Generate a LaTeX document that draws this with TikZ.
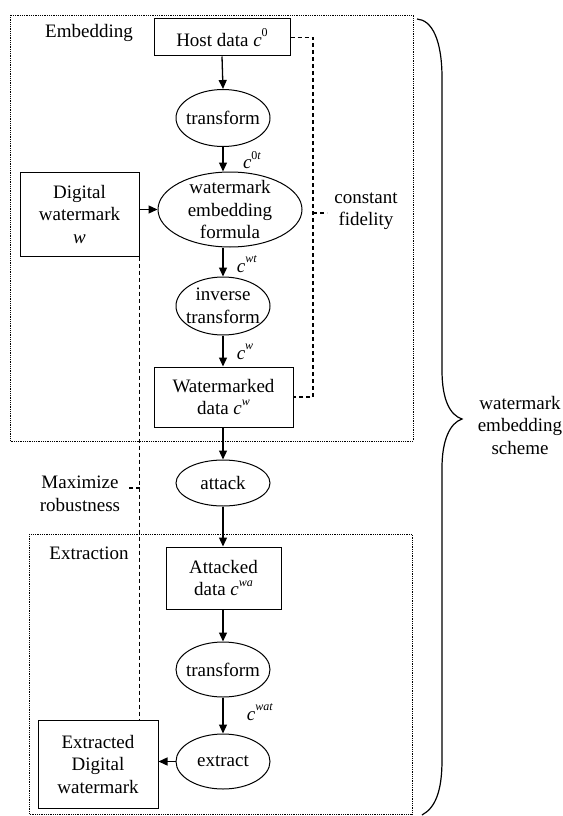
\documentclass[tikz,border=0pt]{standalone}
\usepackage{fontspec}
\setmainfont{Liberation Serif}
\usetikzlibrary{arrows.meta,shapes.geometric}
\newcommand\supit[2]{\textit{#1}\raisebox{0.5em}{\fontsize{12}{12}\selectfont\textit{#2}}}
\newcommand\suprm[2]{\textit{#1}\raisebox{0.5em}{\fontsize{12}{12}\selectfont #2}}
\tikzset{
  txt/.style={font=\fontsize{19}{22.5}\selectfont, align=center, inner sep=0pt},
  boxn/.style={draw, line width=1pt, inner sep=0pt},
  elln/.style={draw, ellipse, line width=1pt, inner sep=0pt},
  flow/.style={line width=1.3pt, -{Triangle[length=9pt,width=8pt]}},
  dashl/.style={line width=1.1pt, dash pattern=on 4pt off 3pt},
  region/.style={line width=0.8pt, densely dotted},
  bracel/.style={line width=1.2pt}
}
\begin{document}
\begin{tikzpicture}[x=1pt,y=-1pt]
\useasboundingbox (0,0) rectangle (562,816);
% regions
\draw[region] (10,15) rectangle (413,441);
\draw[region] (29,534) rectangle (412,814);
\node[txt] (lemb) at (89,33) {Embedding};
\node[txt] (lext) at (89,553) {Extraction};
% embedding part
\node[boxn, minimum width=136, minimum height=37] (host) at (222,37.5) {};
\node[txt] (hostt) at (host) {Host data \suprm{c}{0}};
\node[elln, minimum width=94, minimum height=57] (tr1) at (223,118) {};
\node[txt] (tr1t) at (tr1) {transform};
\node[elln, minimum width=144, minimum height=75] (emb) at (230,209.5) {};
\node[txt] (embt) at (emb) {watermark\\embedding\\formula};
\node[boxn, minimum width=119, minimum height=84] (dw) at (79.5,214) {};
\node[txt] (dwt) at (dw) {Digital\\watermark\\\textit{w}};
\node[elln, minimum width=94, minimum height=58] (inv) at (223,306) {};
\node[txt] (invt) at (inv) {inverse\\transform};
\node[boxn, minimum width=139, minimum height=60] (wmd) at (223.5,397) {};
\node[txt] (wmdt) at (wmd) {Watermarked\\data \supit{c}{w}};
% attack
\node[elln, minimum width=94, minimum height=46] (att) at (223,483) {};
\node[txt] (attt) at (att) {attack};
% extraction part
\node[boxn, minimum width=115, minimum height=62] (atd) at (223.5,578) {};
\node[txt] (atdt) at (atd) {Attacked\\data \supit{c}{wa}};
\node[elln, minimum width=94, minimum height=55] (tr2) at (223,669.5) {};
\node[txt] (tr2t) at (tr2) {transform};
\node[elln, minimum width=94, minimum height=55] (xt) at (223,761.5) {};
\node[txt] (xtt) at (xt) {extract};
\node[boxn, minimum width=120, minimum height=88] (exw) at (98,764) {};
\node[txt] (exwt) at (exw) {Extracted\\Digital\\watermark};
% signal labels
\node[txt] (l0t) at (252,160) {\textit{c}\raisebox{0.5em}{\fontsize{12}{12}\selectfont 0\textit{t}}};
\node[txt] (lwt) at (247,264) {\supit{c}{wt}};
\node[txt] (lw) at (245,352) {\supit{c}{w}};
\node[txt] (lwat) at (260,712) {\supit{c}{wat}};
% flow arrows
\draw[flow] (host.south) -- (tr1.north);
\draw[flow] (tr1.south) -- (tr1.south |- emb.north);
\draw[flow] (dw.east |- emb.west) -- (emb.west);
\draw[flow] (inv.north |- emb.south) -- (inv.north);
\draw[flow] (inv.south) -- (wmd.north -| inv.south);
\draw[flow] (wmd.south -| att.north) -- (att.north);
\draw[flow] (att.south) -- (atd.north -| att.south);
\draw[flow] (atd.south -| tr2.north) -- (tr2.north);
\draw[flow] (tr2.south) -- (xt.north);
\draw[flow] (xt.west) -- (exw.east |- xt.west);
% dashed constraints
\coordinate (cf1) at (313,213);
\coordinate (cf2) at (327,213);
\draw[dashl] (host.east) -| (cf1) |- (wmd.east);
\draw[dashl] (cf1) -- (cf2);
\node[txt] (cfid) at (366,211) {constant\\fidelity};
\coordinate (mr1) at (140,488);
\coordinate (mr2) at (127,488);
\draw[dashl] (dw.south east) -- (dw.south east |- exw.north);
\draw[dashl] (mr1) -- (mr2);
\node[txt] (mrob) at (80,494) {Maximize\\robustness};
% brace
\draw[bracel] (417,19) .. controls (432,20) and (442,40) .. (442,78) -- (442,370)
  .. controls (442,400) and (450,415) .. (462,419)
  .. controls (450,423) and (442,440) .. (442,468) -- (442,760)
  .. controls (442,792) and (435,808) .. (422,815);
\node[txt] (scheme) at (520,425) {watermark\\embedding\\scheme};
\end{tikzpicture}
\end{document}
